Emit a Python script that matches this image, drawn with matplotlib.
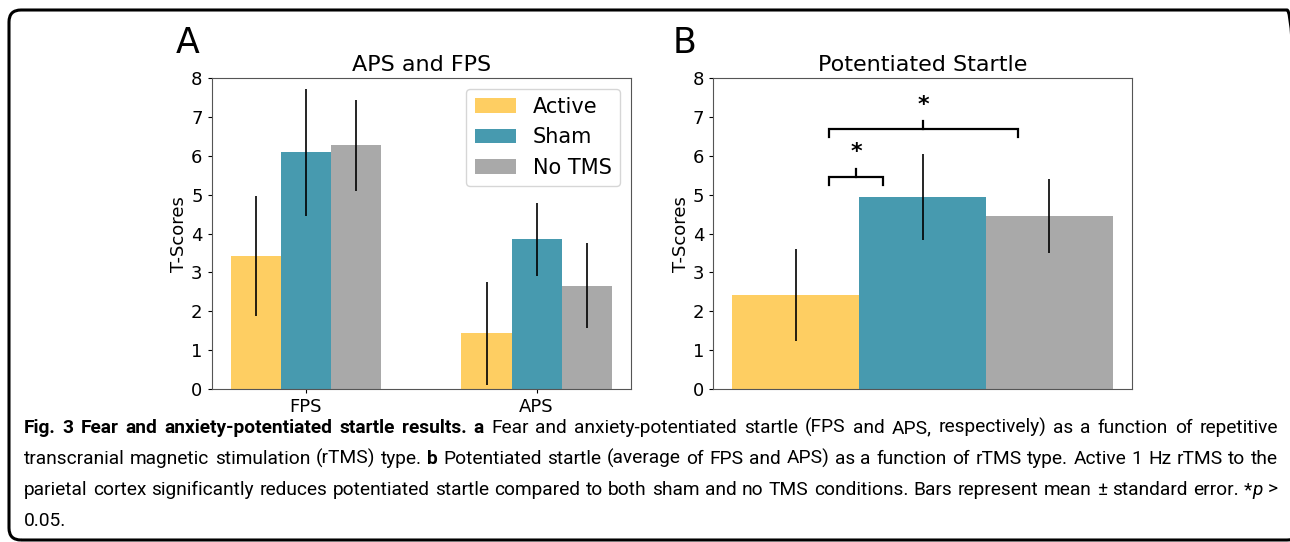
import matplotlib
matplotlib.use("Agg")
import matplotlib.pyplot as plt
import matplotlib.transforms as mtransforms
from matplotlib import font_manager
from matplotlib.patches import FancyBboxPatch
import numpy as np

# --- DONNÉES
conditions = ["Active", "Sham", "No TMS"]
groups_a = ["FPS", "APS"]

active_a = [3.42, 1.43]
sham_a = [6.09, 3.85]
notms_a = [6.27, 2.66]
active_a_err = [1.55, 1.32]
sham_a_err = [1.64, 0.94]
notms_a_err = [1.18, 1.10]

means_b = [2.42, 4.95, 4.46]
err_b = [1.18, 1.11, 0.96]

colors = ["#FECE62", "#479AAF", "#A9A9A9"]

caption_lines = [
    [("Fig. 3 Fear and anxiety-potentiated startle results. a", "bold", "normal"),
     ("Fear and anxiety-potentiated startle (FPS and APS, respectively) as a function of repetitive", "normal", "normal")],
    [("transcranial magnetic stimulation (rTMS) type.", "normal", "normal"),
     ("b", "bold", "normal"),
     ("Potentiated startle (average of FPS and APS) as a function of rTMS type. Active 1 Hz rTMS to the", "normal", "normal")],
    [("parietal cortex significantly reduces potentiated startle compared to both sham and no TMS conditions. Bars represent mean ± standard error. *", "normal", "normal"),
     ("+p", "normal", "italic"),
     (">", "normal", "normal")],
    [("0.05.", "normal", "normal")],
]

W, H = 1290, 542
fig = plt.figure(figsize=(W / 100, H / 100), dpi=100)


def pick_font(names):
    available = {f.name for f in font_manager.fontManager.ttflist}
    for n in names:
        if n in available:
            return n
    return "DejaVu Sans"


cap_font = pick_font(["Liberation Sans Narrow", "Roboto", "Open Sans"])

# --- PANNEAU A
ax_a = fig.add_axes([211.6 / W, 1 - 389 / H, 419 / W, 310.7 / H])
x = np.arange(len(groups_a))
bw = 0.65 / 3
series = [(active_a, active_a_err), (sham_a, sham_a_err), (notms_a, notms_a_err)]
for i, (vals, errs) in enumerate(series):
    ax_a.bar(x + (i - 1) * bw, vals, bw, color=colors[i], label=conditions[i])
    ax_a.errorbar(x + (i - 1) * bw, vals, yerr=errs, fmt="none", ecolor="black",
                  elinewidth=1.2, capsize=0)
ax_a.set_xticks(x)
ax_a.set_xticklabels(groups_a, fontsize=13)
ax_a.set_ylim(0, 8)
ax_a.set_title("APS and FPS", fontsize=16, pad=5)
ax_a.set_ylabel("T-Scores", fontsize=13, labelpad=2)
ax_a.legend(loc="upper right", fontsize=15)

# --- PANNEAU B
ax_b = fig.add_axes([713.4 / W, 1 - 389 / H, 418.3 / W, 310.7 / H])
xb = np.arange(len(conditions))
ax_b.bar(xb, means_b, 1.0, color=colors)
ax_b.errorbar(xb, means_b, yerr=err_b, fmt="none", ecolor="black", elinewidth=1.2, capsize=0)
ax_b.set_xticks([])
ax_b.set_ylim(0, 8)
ax_b.set_title("Potentiated Startle", fontsize=16, pad=5)
ax_b.set_ylabel("T-Scores", fontsize=13, labelpad=2)


# crochets de significativité
def bracket(ax, x0, x1, y_low, y_bar, y_top, y_star):
    xm = (x0 + x1) / 2
    ax.plot([x0, x0, x1, x1], [y_low, y_bar, y_bar, y_low], color="black", lw=1.6,
            solid_joinstyle="miter")
    ax.plot([xm, xm], [y_bar, y_top], color="black", lw=1.6)
    ax.text(xm, y_star, "*", ha="center", va="center", fontsize=16, fontweight="bold")


bracket(ax_b, 0.26, 0.69, 5.25, 5.47, 5.67, 6.1)
bracket(ax_b, 0.26, 1.75, 6.48, 6.69, 6.91, 7.32)

for ax in (ax_a, ax_b):
    ax.tick_params(labelsize=13, length=3)
    for s in ax.spines.values():
        s.set_color("#555555")

fig.text(176 / W, 1 - 53 / H, "A", fontsize=25, va="baseline")
fig.text(673 / W, 1 - 53 / H, "B", fontsize=25, va="baseline")

# --- LÉGENDE (texte justifié, mot par mot)
renderer = fig.canvas.get_renderer()
x_left, x_right = 24, 1278
baselines = [433, 464, 495, 526]


def split_words(line):
    words = []
    for text, weight, style in line:
        joined = text.startswith("+")
        if joined:
            text = text[1:]
        for k, w in enumerate(text.split(" ")):
            words.append([w, weight, style, joined and k == 0])
    return words


def measure(words, size):
    arts = []
    for w, weight, style, joined in words:
        t = fig.text(0, 0, w, fontsize=size, fontweight=weight, fontstyle=style,
                     family=cap_font, va="baseline", ha="left")
        arts.append((t, t.get_window_extent(renderer).width, joined))
    return arts


# taille ajustée pour que la ligne la plus longue tienne avec des espaces normaux
probe = 12.0
sp = fig.text(0, 0, "a a", fontsize=probe, family=cap_font)
sp_w = sp.get_window_extent(renderer).width
sa = fig.text(0, 0, "aa", fontsize=probe, family=cap_font)
sp_w -= sa.get_window_extent(renderer).width
sp.remove(); sa.remove()
ratio = 10
for line in caption_lines[:-1]:
    arts = measure(split_words(line), probe)
    nat = sum(a[1] for a in arts) + sp_w * sum(1 for a in arts[1:] if not a[2])
    ratio = min(ratio, (x_right - x_left) / nat)
    for a in arts:
        a[0].remove()
cap_size = probe * ratio * 0.99

for li, line in enumerate(caption_lines):
    arts = measure(split_words(line), cap_size)
    total = sum(a[1] for a in arts)
    n_gaps = sum(1 for a in arts[1:] if not a[2])
    if li < len(caption_lines) - 1 and n_gaps:
        gap = (x_right - x_left - total) / n_gaps
    else:
        gap = sp_w * ratio
    pos = x_left
    for k, (t, wd, joined) in enumerate(arts):
        if k > 0 and not joined:
            pos += gap
        t.set_position((pos / W, 1 - baselines[li] / H))
        pos += wd

# cadre arrondi
frame = FancyBboxPatch((9, 2), 1290, 530, boxstyle="round,pad=0,rounding_size=12",
                       fill=False, lw=2.2, edgecolor="black",
                       transform=mtransforms.IdentityTransform())
fig.add_artist(frame)

fig.savefig("out.png", dpi=100)
